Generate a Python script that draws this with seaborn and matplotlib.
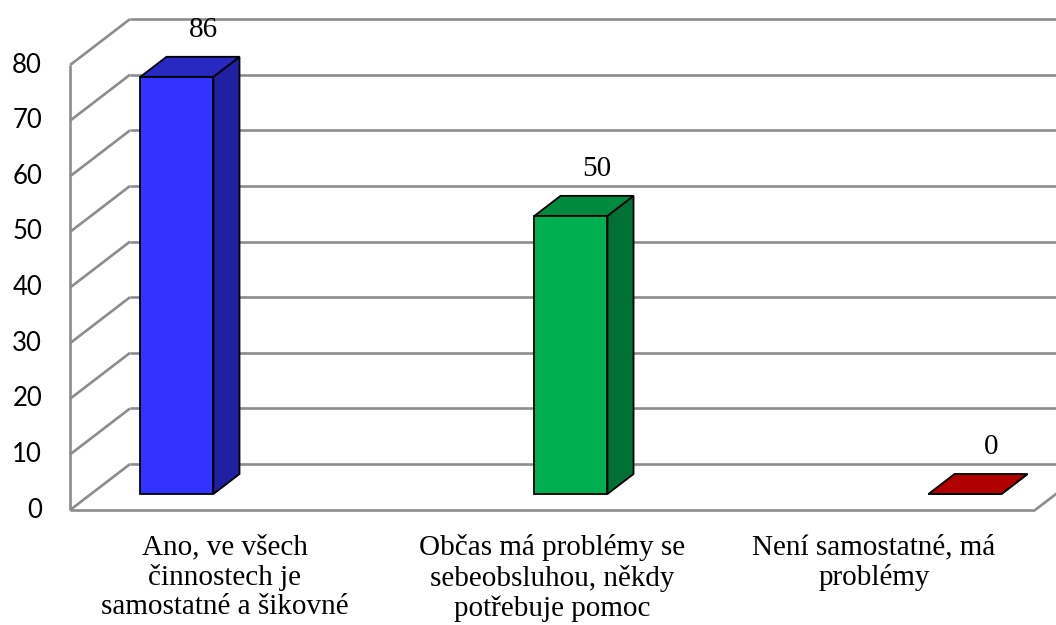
import numpy as np
import pandas as pd
import matplotlib
matplotlib.use("Agg")
import matplotlib.pyplot as plt
from matplotlib.patches import Polygon
import seaborn as sns

# ---- data -------------------------------------------------------------
categories = [
    "Ano, ve všech\nčinnostech je\nsamostatné a šikovné",
    "Občas má problémy se\nsebeobsluhou, někdy\npotřebuje pomoc",
    "Není samostatné, má\nproblémy",
]
values = [86, 50, 0]
y_ticks = [0, 10, 20, 30, 40, 50, 60, 70, 80]

# ---- styling ----------------------------------------------------------
front_colors = ["#3333FF", "#00B050", "#C00000"]
top_colors = ["#2828C2", "#008A3E", "#B00000"]
side_colors = ["#2020A2", "#007034", "#850000"]
grid_color = "#8C8C8C"
DPI = 100
PT = 72 / DPI                      # pixels -> points
DEPTH = np.array([60.0, 46.0])     # full floor depth vector in pixels
T_FRONT, T_BAR_BACK, T_WALL = -0.348, 0.435, 0.652
COLUMN_CEILING = 75                # columns are cut off at this height
X_MIN, X_MAX = -0.218, 2.231
label_x = [0.122, 0.952, 1.769]

sns.set_theme(style="white")
plt.rcParams["font.family"] = ["Liberation Serif", "DejaVu Serif"]
plt.rcParams["text.color"] = "black"

fig = plt.figure(figsize=(10.56, 6.25), dpi=DPI)
ax = fig.add_axes([91 / 1056, 131 / 625, 965 / 1056, 445 / 625])

df = pd.DataFrame({"cat": categories,
                   "val": np.minimum(values, COLUMN_CEILING)})
sns.barplot(data=df, x="cat", y="val", hue="cat", palette=front_colors,
            width=73 / 394, edgecolor="black", linewidth=1.3,
            saturation=1, legend=False, ax=ax, zorder=6)
ax.set_xlim(X_MIN, X_MAX)
ax.set_ylim(0, 80)
ax.set_axis_off()


def shift(x, y, t):
    """Move a data point t floor-depths back into the 3D box."""
    p = ax.transData.transform((x, y)) + t * DEPTH
    return ax.transData.inverted().transform(p)


def seg(p, q, **kw):
    ax.plot([p[0], q[0]], [p[1], q[1]], color=grid_color, lw=1.9,
            solid_capstyle="butt", clip_on=False, zorder=1, **kw)


# back wall gridlines and left wall
for v in y_ticks:
    seg(shift(X_MIN, v, T_WALL), shift(X_MAX + 0.2, v, T_WALL))
    seg(shift(X_MIN, v, T_FRONT), shift(X_MIN, v, T_WALL))
seg(shift(X_MIN, 0, T_FRONT), shift(X_MIN, 80, T_FRONT))
# floor front edge and right edge
seg(shift(X_MIN, 0, T_FRONT), shift(X_MAX, 0, T_FRONT))
seg(shift(X_MAX, 0, T_FRONT), shift(X_MAX, 0, T_WALL))

# y tick labels along the front-left edge
for v in y_ticks:
    ax.annotate(str(v), xy=shift(X_MIN, v, T_FRONT), xytext=(-28 * PT, 0),
                textcoords="offset points", ha="right", va="center",
                fontsize=18.5, family=["Lato", "DejaVu Sans"],
                annotation_clip=False)

# 3D sides and tops of columns
for i, bar in enumerate(ax.patches):
    x0, w, h = bar.get_x(), bar.get_width(), bar.get_height()
    x1 = x0 + w
    top = [(x0, h), (x1, h), shift(x1, h, T_BAR_BACK), shift(x0, h, T_BAR_BACK)]
    side = [(x1, 0), (x1, h), shift(x1, h, T_BAR_BACK), shift(x1, 0, T_BAR_BACK)]
    ax.add_patch(Polygon(side, closed=True, facecolor=side_colors[i],
                         edgecolor="black", lw=1.3, zorder=4, clip_on=False))
    ax.add_patch(Polygon(top, closed=True, facecolor=top_colors[i],
                         edgecolor="black", lw=1.3, zorder=5, clip_on=False))
    anchor = shift(x0 + w / 2, h, T_BAR_BACK)
    ax.annotate(f"{values[i]}", xy=anchor, xytext=(0, 20 * PT),
                textcoords="offset points", ha="center", va="baseline",
                fontsize=21, annotation_clip=False, zorder=7)
    bar.set_clip_on(False)

# category labels under the floor
for lx, txt in zip(label_x, categories):
    ax.annotate(txt, xy=(lx, 0), xytext=(0, -40 * PT),
                textcoords="offset points", ha="center", va="top",
                fontsize=21, linespacing=1.18, annotation_clip=False)

fig.savefig("out.png", dpi=DPI, facecolor="white")
